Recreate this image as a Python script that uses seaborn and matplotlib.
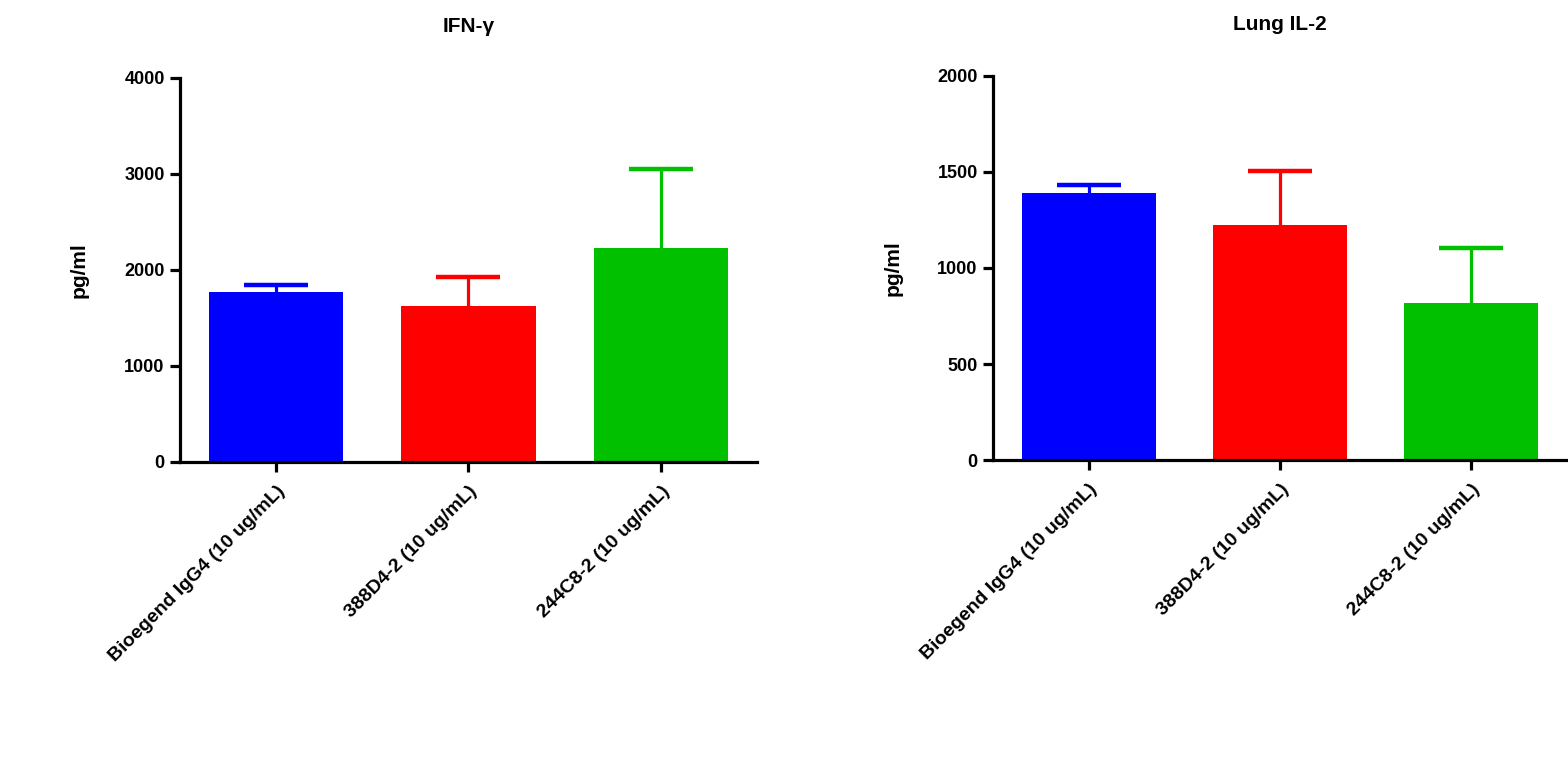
import matplotlib
matplotlib.use("Agg")
import matplotlib.pyplot as plt
import seaborn as sns
import pandas as pd

# ---- data ----
categories = ["Bioegend IgG4 (10 ug/mL)", "388D4-2 (10 ug/mL)", "244C8-2 (10 ug/mL)"]
ifng_mean = [1770, 1625, 2228]
ifng_err = [70, 305, 822]
il2_mean = [1389, 1224, 816]
il2_err = [43, 283, 288]
bar_colors = ["#0000FF", "#FF0000", "#00C000"]
titles = ["IFN-γ", "Lung IL-2"]
ylabel = "pg/ml"
ifng_ticks = [0, 1000, 2000, 3000, 4000]
il2_ticks = [0, 500, 1000, 1500, 2000]

sns.set_theme(style="white")
plt.rcParams["font.family"] = ["Liberation Sans", "DejaVu Sans"]
plt.rcParams["font.weight"] = "bold"
plt.rcParams["text.color"] = "black"
plt.rcParams["axes.labelcolor"] = "black"
plt.rcParams["xtick.color"] = "black"
plt.rcParams["ytick.color"] = "black"

fig = plt.figure(figsize=(15.68, 7.57), dpi=100)
W, H = 1568, 757
ax1 = fig.add_axes([180 / W, 1 - 462 / H, (757 - 180) / W, (462 - 78) / H])
ax2 = fig.add_axes([993 / W, 1 - 460 / H, (1567 - 993) / W, (460 - 76) / H])

panels = [
    (ax1, ifng_mean, ifng_err, ifng_ticks, titles[0]),
    (ax2, il2_mean, il2_err, il2_ticks, titles[1]),
]

for ax, means, errs, ticks, title in panels:
    df = pd.DataFrame({"group": categories, "value": means})
    sns.barplot(data=df, x="group", y="value", hue="group", palette=bar_colors,
                width=0.7, errorbar=None, legend=False, ax=ax, saturation=1,
                linewidth=0, zorder=2)
    for i, (m, e, c) in enumerate(zip(means, errs, bar_colors)):
        _, caps, _ = ax.errorbar(i, m, yerr=[[0], [e]], fmt="none", ecolor=c,
                                 elinewidth=2.3, capsize=23, capthick=3.2, zorder=1)
        # Prism-style: only the upper cap
        caps[0].set_visible(False)
    ax.set_xlim(-0.5, 2.5)
    ax.set_ylim(0, ticks[-1])
    ax.set_yticks(ticks)
    ax.set_yticklabels([str(t) for t in ticks], fontsize=13, fontweight="bold")
    ax.set_xticks(range(len(categories)))
    ax.set_xticklabels(categories, rotation=45, ha="right", rotation_mode="anchor",
                       fontsize=14, fontweight="bold")
    ax.set_xlabel("")
    ax.set_ylabel(ylabel, fontsize=15, fontweight="bold")
    ax.yaxis.set_label_coords(-0.158, 0.5)
    ax.set_title(title, fontsize=15, fontweight="bold", pad=33)
    for s in ["top", "right"]:
        ax.spines[s].set_visible(False)
    for s in ["left", "bottom"]:
        ax.spines[s].set_linewidth(2.3)
        ax.spines[s].set_color("black")
        ax.spines[s].set_zorder(3)
    ax.tick_params(axis="both", which="major", length=7, width=2.3, color="black",
                   direction="out", bottom=True, left=True)
    ax.tick_params(axis="y", pad=4)
    ax.tick_params(axis="x", pad=8)
    ax.grid(False)

fig.savefig("out.png", dpi=100, facecolor="white")
